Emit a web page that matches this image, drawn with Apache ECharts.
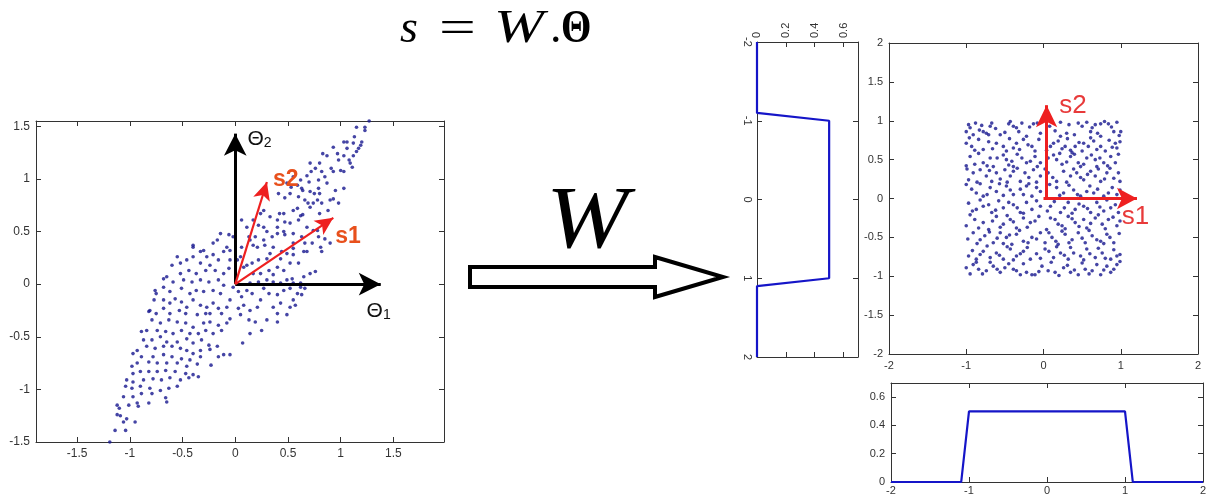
<!DOCTYPE html>
<html><head><meta charset="utf-8">
<script src="https://cdn.jsdelivr.net/npm/echarts@6/dist/echarts.min.js"></script>
<style>html,body{margin:0;padding:0;background:#fff}#c{width:1210px;height:503px}</style>
</head><body><div id="c"></div>
<script>
// ---- data ----
const thetaPoints = [
[1.27,1.55],[1.23,1.49],[1.23,1.46],[1.15,1.49],[1.20,1.35],[1.12,1.34],[1.03,1.35],[1.06,1.35],[0.93,1.30],[1.06,1.29],[1.17,1.29],[1.15,1.26],[0.97,1.24],[1.03,1.22],[0.83,1.24],[0.87,1.22],[0.98,1.18],[1.09,1.15],[0.91,1.10],[1.00,1.08],[1.03,1.07],[1.11,1.11],[0.71,1.15],[0.80,1.15],[0.72,1.07],[0.82,1.07],[0.85,1.02],[0.62,0.99],[0.55,1.02],[0.70,0.97],[0.79,0.99],[0.49,0.96],[0.53,0.92],[0.63,0.91],[0.79,0.91],[1.03,0.91],[0.71,0.88],[0.52,0.86],[0.41,0.86],[0.60,0.83],[0.47,0.82],[0.80,0.86],[0.93,0.81],[0.66,0.80],[0.69,0.77],[0.74,0.77],[0.82,0.77],[0.98,0.77],[0.59,0.72],[0.55,0.70],[0.46,0.67],[0.64,0.66],[0.71,0.73],[0.27,0.70],[0.24,0.67],[0.33,0.64],[0.42,0.67],[0.40,0.61],[0.47,0.59],[0.17,0.61],[0.06,0.61],[0.27,0.54],[0.22,0.56],[0.30,0.50],[0.40,0.48],[0.47,0.47],[0.52,0.58],[0.60,0.61],[0.68,0.54],[0.78,0.51],[0.85,0.43],[0.73,0.39],[0.81,0.35],[0.82,0.31],[0.65,0.31],[0.68,0.31],[0.55,0.34],[0.49,0.29],[0.35,0.45],[0.19,0.45],[0.14,0.42],[0.21,0.35],[0.28,0.37],[0.36,0.35],[0.44,0.31],[0.55,0.28],[0.60,0.20],[0.52,0.20],[0.46,0.13],[0.40,0.16],[0.30,0.24],[0.22,0.23],[0.16,0.20],[0.11,0.18],[0.05,0.26],[0.32,0.13],[0.24,0.10],[0.36,0.09],[0.71,0.10],[0.76,0.12],[0.65,0.07],[0.54,0.05],[0.49,0.04],[0.43,0.01],[0.55,0.01],[0.62,0.01],
[-0.02,-0.03],[0.03,-0.07],[0.11,-0.06],[0.16,-0.09],[0.06,-0.12],[0.27,-0.04],[0.32,-0.09],[0.40,-0.10],[0.46,-0.06],[0.52,-0.04],[0.62,-0.03],[0.66,-0.04],[0.59,-0.09],[0.55,-0.15],[0.63,-0.10],[0.52,-0.22],[0.57,-0.20],[0.43,-0.18],[0.36,-0.22],[0.40,-0.28],[0.49,-0.29],[0.24,-0.15],[0.21,-0.22],[0.14,-0.25],[0.08,-0.20],[0.03,-0.23],[0.05,-0.29],[0.13,-0.34],[0.19,-0.36],[0.30,-0.34],[0.40,-0.36],[0.25,-0.44],[0.14,-0.47],[0.07,-0.56],[-0.05,-0.15],[-0.08,-0.22],[-0.05,-0.33],[-0.08,-0.37],
[-0.06,0.47],[-0.14,0.48],[-0.21,0.39],[-0.08,0.35],[-0.11,0.31],[-0.05,0.32],[-0.30,0.32],[-0.40,0.35],[-0.27,0.26],[-0.21,0.28],[-0.16,0.23],[-0.05,0.23],[-0.33,0.20],[-0.24,0.18],[-0.40,0.26],[-0.46,0.23],[-0.52,0.20],[-0.60,0.18],[-0.55,0.26],[-0.44,0.13],[-0.37,0.10],[-0.28,0.13],[-0.19,0.13],[-0.11,0.10],[-0.06,0.15],[-0.52,0.10],[-0.65,0.07],[-0.59,0.02],[-0.49,0.04],[-0.41,0.02],[-0.33,0.04],[-0.25,0.02],[-0.16,0.04],[-0.11,-0.01],
[-0.68,-0.03],[-0.62,-0.07],[-0.51,-0.04],[-0.43,-0.09],[-0.37,-0.06],[-0.30,-0.07],[-0.21,-0.06],[-0.14,-0.09],[-0.76,-0.06],[-0.75,-0.09],[-0.68,-0.15],[-0.62,-0.18],[-0.57,-0.14],[-0.51,-0.17],[-0.46,-0.22],[-0.40,-0.15],[-0.33,-0.20],[-0.27,-0.22],[-0.21,-0.18],[-0.16,-0.23],[-0.13,-0.28],[-0.24,-0.28],[-0.28,-0.28],[-0.36,-0.29],[-0.47,-0.28],[-0.53,-0.25],[-0.62,-0.28],[-0.68,-0.23],[-0.75,-0.28],[-0.82,-0.26],[-0.79,-0.34],[-0.71,-0.37],[-0.63,-0.34],[-0.55,-0.36],[-0.47,-0.37],[-0.40,-0.41],[-0.30,-0.37],[-0.24,-0.36],[-0.16,-0.39],[-0.13,-0.44],[-0.21,-0.47],[-0.28,-0.44],[-0.35,-0.47],[-0.43,-0.47],[-0.51,-0.44],[-0.59,-0.47],[-0.66,-0.45],[-0.74,-0.44],[-0.84,-0.44],[-0.89,-0.45],[-0.87,-0.53],[-0.79,-0.53],[-0.71,-0.50],[-0.65,-0.55],[-0.55,-0.55],[-0.46,-0.52],[-0.40,-0.56],[-0.32,-0.53],[-0.25,-0.58],[-0.17,-0.59],[-0.11,-0.67],[-0.16,-0.69],[-0.05,-0.67],[-0.24,-0.62],[-0.33,-0.63],[-0.40,-0.66],[-0.46,-0.63],[-0.52,-0.61],[-0.60,-0.59],[-0.68,-0.59],[-0.76,-0.61],[-0.84,-0.59],[-0.93,-0.63],[-0.89,-0.69],[-0.78,-0.69],[-0.68,-0.67],[-0.60,-0.69],[-0.51,-0.71],[-0.43,-0.72],[-0.33,-0.69],[-0.23,-0.77],[-0.36,-0.76],[-0.46,-0.78],[-0.55,-0.75],[-0.65,-0.75],[-0.74,-0.75],[-0.82,-0.74],[-0.93,-0.75],[-0.98,-0.78],[-0.97,-0.85],[-0.90,-0.83],[-0.82,-0.83],[-0.74,-0.83],[-0.66,-0.82],[-0.57,-0.83],[-0.47,-0.85],[-0.40,-0.86],[-0.35,-0.88],[-0.44,-0.89],[-0.52,-0.91],[-0.62,-0.89],[-0.70,-0.91],[-0.78,-0.90],[-0.87,-0.91],[-0.97,-0.93],[-1.03,-0.91],[-1.04,-0.97],[-0.98,-0.99],[-0.90,-0.97],[-0.81,-0.99],[-0.71,-1.01],[-0.63,-0.99],[-0.55,-0.97],[-0.79,-1.04],[-0.89,-1.04],[-0.97,-1.07],[-1.06,-1.07],[-0.66,-1.08],[-0.65,-1.12],[-0.82,-1.13],[-0.93,-1.13],[-1.01,-1.15],[-1.12,-1.15],[-1.10,-1.18],[-0.92,-1.16],[-1.12,-1.24],[-1.09,-1.25],[-1.03,-1.28],[-0.95,-1.31],[-1.06,-1.31],[-1.14,-1.39],[-1.04,-1.39],[-1.19,-1.50],[-0.97,-0.66],[-0.81,-0.25],[-0.77,-0.15],[-0.68,0.05],[-0.40,0.37],[-0.17,0.42],[-0.33,0.31],
[0.11,0.54],[0.13,0.45],[0.17,0.37],[-0.02,0.45],[0.02,0.23],[0.06,0.35],[0.08,0.16],[0.17,0.10],[0.30,0.04],[0.36,0.02],[0.22,0.02],[0.14,0.01],[0.27,0.42],[0.33,0.29],[0.43,0.24],[0.40,0.54],[0.46,0.50],[0.55,0.48],[0.63,0.45],[0.74,0.51],[0.79,0.45],[0.90,0.39],[0.66,0.39],[0.55,0.39],[0.62,0.65],[0.80,0.67],[0.88,0.70],[0.75,0.86],[0.64,0.89],[0.59,0.94],[0.68,1.03],[0.76,1.10],[0.93,1.07],[0.87,0.96],[0.95,0.89],[0.78,0.80],[0.90,0.80],[1.08,1.18],[1.12,1.22],[1.19,1.32],[1.13,1.40]
];
const sourcePoints = [
[-1.00,0.86],[-0.95,0.91],[-0.91,0.82],[-0.80,0.94],[-0.78,0.86],[-0.74,0.84],[-0.69,0.93],[-0.67,0.97],[-0.71,0.82],[-0.56,0.82],[-0.45,0.96],[-0.39,0.93],[-0.32,0.86],[-0.28,0.97],[-0.22,0.80],[-0.13,0.96],[-0.04,0.84],[0.22,0.98],[0.22,0.80],[0.30,0.84],[0.45,0.97],[0.50,0.93],[0.56,0.98],[0.61,0.86],[0.67,0.95],[0.74,0.96],[0.74,0.80],[0.84,0.96],[0.91,0.86],[0.95,0.98],[1.00,0.86],
[-1.00,0.71],[-0.93,0.67],[-0.84,0.76],[-0.78,0.63],[-0.61,0.71],[-0.52,0.67],[-0.48,0.61],[-0.39,0.65],[-0.35,0.71],[-0.26,0.76],[-0.15,0.67],[-0.11,0.61],[0.09,0.67],[0.13,0.71],[0.19,0.74],[0.28,0.67],[0.35,0.62],[0.37,0.59],[0.41,0.67],[0.52,0.71],[0.58,0.67],[0.65,0.74],[0.74,0.67],[0.80,0.61],[0.93,0.71],[0.95,0.65],
[-0.95,0.54],[-0.89,0.44],[-0.78,0.46],[-0.69,0.52],[-0.65,0.41],[-0.52,0.56],[-0.48,0.50],[-0.41,0.48],[-0.39,0.41],[-0.28,0.52],[-0.22,0.46],[-0.11,0.54],[-0.04,0.46],[0.13,0.56],[0.17,0.50],[0.24,0.44],[0.35,0.54],[0.45,0.46],[0.48,0.41],[0.56,0.52],[0.67,0.50],[0.69,0.41],[0.78,0.46],[0.87,0.54],[0.93,0.46],
[-0.97,0.24],[-0.91,0.33],[-0.82,0.37],[-0.74,0.29],[-0.67,0.22],[-0.61,0.33],[-0.50,0.37],[-0.43,0.29],[-0.39,0.35],[-0.30,0.22],[-0.24,0.33],[-0.13,0.37],[-0.04,0.29],[0.06,0.33],[0.17,0.22],[0.26,0.35],[0.35,0.29],[0.43,0.33],[0.52,0.24],[0.61,0.35],[0.67,0.29],[0.74,0.22],[0.82,0.33],[0.91,0.26],[0.97,0.33],
[-1.00,0.18],[-0.87,0.07],[-0.78,0.03],[-0.69,0.14],[-0.61,0.09],[-0.48,0.16],[-0.39,0.05],[-0.30,0.12],[-0.22,0.16],[-0.15,0.03],[-0.04,0.09],[0.17,0.14],[0.26,0.07],[0.39,0.11],[0.48,0.03],[0.56,0.09],[0.65,0.07],[0.78,0.03],[0.89,0.14],[0.95,0.05],
[-0.97,-0.06],[-0.87,-0.14],[-0.78,-0.10],[-0.67,-0.18],[-0.58,-0.03],[-0.52,-0.12],[-0.39,-0.08],[-0.30,-0.18],[-0.22,-0.05],[-0.15,-0.14],[-0.04,-0.10],[0.09,-0.10],[0.22,-0.18],[0.32,-0.05],[0.41,-0.14],[0.52,-0.10],[0.61,-0.18],[0.69,-0.05],[0.78,-0.16],[0.87,-0.12],[0.97,-0.18],
[-1.00,-0.35],[-0.89,-0.27],[-0.78,-0.31],[-0.71,-0.40],[-0.61,-0.23],[-0.52,-0.33],[-0.43,-0.27],[-0.35,-0.38],[-0.26,-0.25],[-0.17,-0.31],[-0.06,-0.23],[0.04,-0.40],[0.15,-0.27],[0.24,-0.35],[0.32,-0.23],[0.41,-0.31],[0.52,-0.27],[0.56,-0.38],[0.67,-0.25],[0.76,-0.33],[0.84,-0.27],[0.95,-0.35],
[-0.91,-0.44],[-0.82,-0.53],[-0.76,-0.48],[-0.65,-0.57],[-0.56,-0.44],[-0.48,-0.50],[-0.41,-0.59],[-0.35,-0.46],[-0.26,-0.55],[-0.15,-0.50],[-0.04,-0.44],[0.02,-0.57],[0.11,-0.50],[0.19,-0.59],[0.28,-0.46],[0.37,-0.53],[0.45,-0.44],[0.54,-0.57],[0.63,-0.48],[0.74,-0.55],[0.82,-0.46],[0.91,-0.57],
[-0.97,-0.74],[-0.87,-0.78],[-0.78,-0.68],[-0.69,-0.76],[-0.61,-0.70],[-0.52,-0.78],[-0.43,-0.65],[-0.35,-0.74],[-0.26,-0.68],[-0.17,-0.78],[-0.09,-0.71],[0.02,-0.65],[0.13,-0.76],[0.22,-0.70],[0.32,-0.78],[0.39,-0.70],[0.48,-0.74],[0.56,-0.65],[0.67,-0.76],[0.76,-0.70],[0.87,-0.78],[0.95,-0.74],
[-1.00,-0.89],[-0.91,-0.85],[-0.84,-0.91],[-0.74,-0.93],[-0.65,-0.87],[-0.56,-0.95],[-0.50,-0.89],[-0.39,-0.91],[-0.30,-0.98],[-0.22,-0.95],[-0.15,-0.98],[-0.11,-0.98],[-0.02,-0.87],[0.06,-0.93],[0.15,-0.95],[0.26,-0.89],[0.35,-0.95],[0.45,-0.98],[0.54,-0.91],[0.63,-0.93],[0.74,-0.98],[0.82,-0.87],[0.91,-0.91],[0.95,-0.85],
[-0.97,0.95],[-0.88,0.97],[-0.83,0.88],[-0.62,0.90],[-0.50,0.85],[-0.43,0.99],[-0.35,0.91],[-0.18,0.92],[-0.08,0.97],[0.08,0.93],[0.15,0.87],[0.33,0.95],[0.40,0.82],[0.63,0.91],[0.70,0.84],[0.79,0.99],[0.88,0.92],[0.98,0.81],
[-0.96,0.78],[-0.89,0.62],[-0.71,0.73],[-0.66,0.64],[-0.44,0.77],[-0.31,0.63],[-0.20,0.69],[-0.06,0.76],[0.04,0.62],[0.24,0.64],[0.31,0.77],[0.46,0.72],[0.50,0.61],[0.61,0.78],[0.69,0.63],[0.85,0.75],[0.89,0.66],[0.99,0.73],
[-1.00,0.42],[-0.84,0.58],[-0.73,0.42],[-0.60,0.52],[-0.45,0.43],[-0.34,0.57],[-0.17,0.48],[-0.08,0.41],[0.06,0.52],[0.21,0.58],[0.30,0.47],[0.40,0.57],[0.52,0.44],[0.62,0.56],[0.73,0.52],[0.83,0.42],[0.97,0.57],
[-0.99,0.38],[-0.86,0.21],[-0.70,0.36],[-0.56,0.25],[-0.47,0.21],[-0.34,0.39],[-0.19,0.27],[-0.09,0.21],[0.02,0.38],[0.12,0.27],[0.30,0.21],[0.39,0.38],[0.48,0.27],[0.57,0.31],[0.71,0.38],[0.79,0.25],[0.86,0.39],[0.99,0.22],
[-0.93,0.12],[-0.82,0.19],[-0.73,0.05],[-0.57,0.19],[-0.52,0.04],[-0.43,0.11],[-0.26,0.05],[-0.19,0.19],[-0.09,0.14],[0.08,0.18],[0.21,0.04],[0.33,0.17],[0.44,0.05],[0.60,0.16],[0.70,0.12],[0.84,0.07],[0.99,0.11],
[-0.92,-0.16],[-0.82,-0.02],[-0.71,-0.08],[-0.62,-0.15],[-0.45,-0.05],[-0.34,-0.12],[-0.26,-0.19],[-0.09,-0.03],[0.05,-0.16],[0.14,-0.04],[0.27,-0.12],[0.37,-0.19],[0.46,-0.07],[0.57,-0.13],[0.73,-0.11],[0.82,-0.02],[0.93,-0.08],
[-0.95,-0.21],[-0.84,-0.38],[-0.66,-0.29],[-0.56,-0.37],[-0.47,-0.22],[-0.39,-0.30],[-0.21,-0.37],[-0.11,-0.29],[0.09,-0.25],[0.19,-0.33],[0.28,-0.39],[0.37,-0.26],[0.46,-0.36],[0.61,-0.32],[0.71,-0.21],[0.80,-0.39],[0.90,-0.24],[0.99,-0.29],
[-0.98,-0.52],[-0.86,-0.58],[-0.70,-0.43],[-0.60,-0.51],[-0.52,-0.58],[-0.44,-0.47],[-0.31,-0.41],[-0.20,-0.57],[-0.09,-0.52],[0.07,-0.44],[0.16,-0.55],[0.24,-0.42],[0.33,-0.57],[0.50,-0.51],[0.59,-0.41],[0.69,-0.53],[0.78,-0.58],[0.86,-0.50],[0.98,-0.45],
[-0.92,-0.67],[-0.82,-0.72],[-0.73,-0.61],[-0.57,-0.73],[-0.47,-0.62],[-0.39,-0.79],[-0.30,-0.71],[-0.21,-0.63],[-0.04,-0.77],[0.07,-0.68],[0.17,-0.62],[0.27,-0.73],[0.35,-0.63],[0.52,-0.79],[0.60,-0.71],[0.71,-0.64],[0.80,-0.77],[0.91,-0.66],[0.99,-0.72],
[-0.95,-0.97],[-0.87,-0.82],[-0.79,-0.97],[-0.69,-0.82],[-0.60,-0.91],[-0.45,-0.84],[-0.35,-0.93],[-0.26,-0.84],[-0.06,-0.94],[0.10,-0.82],[0.20,-0.99],[0.31,-0.86],[0.40,-0.92],[0.50,-0.83],[0.59,-0.97],[0.69,-0.85],[0.78,-0.92],[0.87,-0.95],[0.99,-0.81]
];
const densityS = [-2, -1.1, -1, 1, 1.1, 2];
const densityP = [0, 0, 0.5, 0.5, 0, 0];
const thetaTicks = [-1.5, -1, -0.5, 0, 0.5, 1, 1.5];
const thetaAxisTip = [1.38, 1.43];          // tips of Θ1 and Θ2 axis arrows
const s1Theta = [0.93, 0.63], s2Theta = [0.30, 0.97];
const s1Src = [1.21, 0], s2Src = [0.04, 1.2];

// ---- helpers ----
const AX = '#333';
function ax(o) {
  const base = {
    type: 'value', splitLine: { show: false },
    axisLine: { show: true, onZero: false, lineStyle: { color: AX, width: 1 } },
    axisTick: { show: true, inside: true, length: 5, lineStyle: { color: AX } },
    axisLabel: { show: true, color: '#333', fontSize: 11, fontFamily: 'Liberation Sans, Arial', margin: 6, showMaxLabel: true }
  };
  const r = Object.assign({}, base, o);
  r.axisTick = Object.assign({}, base.axisTick, o.axisTick || {});
  r.axisLabel = Object.assign({}, base.axisLabel, o.axisLabel || {});
  return r;
}
const dotColor = '#16168f';
const densLine = densityS.map((s, i) => [s, densityP[i]]);
const densLineRot = densityS.map((s, i) => [densityP[i], s]);
const solid = (c, w) => ({ color: c, width: w, type: 'solid' });
const serif = (style, size, weight) => ({ fontStyle: style, fontWeight: weight || 'normal', fontSize: size, fontFamily: 'Liberation Serif', fill: '#000', verticalAlign: 'middle' });

const option = {
  animation: false,
  backgroundColor: '#fff',
  grid: [
    { left: 36, top: 121, width: 408, height: 321 },
    { left: 889, top: 43, width: 309, height: 311 },
    { left: 757, top: 42, width: 101, height: 315 },
    { left: 891, top: 383, width: 312, height: 99 }
  ],
  xAxis: [
    ax({ gridIndex: 0, position: 'bottom', min: -1.89, max: 1.98, axisTick: { customValues: thetaTicks }, axisLabel: { customValues: thetaTicks, fontSize: 12 } }),
    ax({ gridIndex: 0, position: 'top', min: -1.89, max: 1.98, axisTick: { customValues: thetaTicks }, axisLabel: { show: false } }),
    ax({ gridIndex: 1, position: 'bottom', min: -2, max: 2, interval: 1 }),
    ax({ gridIndex: 1, position: 'top', min: -2, max: 2, interval: 1, axisLabel: { show: false } }),
    ax({ gridIndex: 2, position: 'top', min: 0, max: 0.7, interval: 0.2, axisLabel: { rotate: -90, margin: 4, showMaxLabel: false } }),
    ax({ gridIndex: 2, position: 'bottom', min: 0, max: 0.7, interval: 0.2, axisLabel: { show: false } }),
    ax({ gridIndex: 3, position: 'bottom', min: -2, max: 2, interval: 1, axisLabel: { margin: 3 } }),
    ax({ gridIndex: 3, position: 'top', min: -2, max: 2, interval: 1, axisLabel: { show: false } })
  ],
  yAxis: [
    ax({ gridIndex: 0, position: 'left', min: -1.5, max: 1.55, axisTick: { customValues: thetaTicks }, axisLabel: { customValues: thetaTicks, fontSize: 12 } }),
    ax({ gridIndex: 0, position: 'right', min: -1.5, max: 1.55, axisTick: { customValues: thetaTicks }, axisLabel: { show: false } }),
    ax({ gridIndex: 1, position: 'left', min: -2, max: 2, interval: 0.5 }),
    ax({ gridIndex: 1, position: 'right', min: -2, max: 2, interval: 0.5, axisLabel: { show: false } }),
    ax({ gridIndex: 2, position: 'left', min: -2, max: 2, interval: 1, inverse: true, axisLabel: { rotate: -90, margin: 4 } }),
    ax({ gridIndex: 2, position: 'right', min: -2, max: 2, interval: 1, inverse: true, axisLabel: { show: false } }),
    ax({ gridIndex: 3, position: 'left', min: 0, max: 0.7, interval: 0.2, axisLabel: { showMaxLabel: false } }),
    ax({ gridIndex: 3, position: 'right', min: 0, max: 0.7, interval: 0.2, axisLabel: { show: false } })
  ],
  series: [
    {
      type: 'scatter', xAxisIndex: 0, yAxisIndex: 0, data: thetaPoints,
      symbolSize: 3.6, itemStyle: { color: dotColor },
      markLine: {
        silent: true, animation: false, label: { show: false },
        symbol: ['none', 'arrow'],
        data: [
          [{ coord: [0, 0], lineStyle: solid('#000', 3) }, { coord: [thetaAxisTip[0], 0], symbolSize: [17, 22], itemStyle: { color: '#000' } }],
          [{ coord: [0, 0], lineStyle: solid('#000', 3) }, { coord: [0, thetaAxisTip[1]], symbolSize: [17, 22], itemStyle: { color: '#000' } }],
          [{ coord: [0, 0], lineStyle: solid('#ee2020', 2.2) }, { coord: s1Theta, symbolSize: [13, 18], itemStyle: { color: '#ee2020' } }],
          [{ coord: [0, 0], lineStyle: solid('#ee2020', 2.2) }, { coord: s2Theta, symbolSize: [13, 18], itemStyle: { color: '#ee2020' } }]
        ]
      },
      markPoint: {
        silent: true, symbol: 'circle', symbolSize: 0,
        label: { show: true, position: 'inside' },
        data: [
          { coord: [0.48, 0.99], label: { formatter: 's2', color: '#e8501c', fontSize: 23, fontWeight: 'bold', fontFamily: 'Liberation Sans, Arial' } },
          { coord: [1.07, 0.45], label: { formatter: 's1', color: '#e8501c', fontSize: 23, fontWeight: 'bold', fontFamily: 'Liberation Sans, Arial' } },
          { coord: [0.23, 1.38], label: { formatter: '{t|Θ}{s|2}', rich: { t: { fontSize: 21, color: '#111', fontFamily: 'Liberation Sans, Arial' }, s: { fontSize: 14, color: '#111', verticalAlign: 'bottom', padding: [8, 0, 0, 0], fontFamily: 'Liberation Sans, Arial' } } } },
          { coord: [1.36, -0.26], label: { formatter: '{t|Θ}{s|1}', rich: { t: { fontSize: 21, color: '#111', fontFamily: 'Liberation Sans, Arial' }, s: { fontSize: 14, color: '#111', verticalAlign: 'bottom', padding: [8, 0, 0, 0], fontFamily: 'Liberation Sans, Arial' } } } }
        ]
      }
    },
    {
      type: 'scatter', xAxisIndex: 2, yAxisIndex: 2, data: sourcePoints,
      symbolSize: 3.6, itemStyle: { color: dotColor },
      markLine: {
        silent: true, animation: false, label: { show: false },
        symbol: ['none', 'arrow'],
        data: [
          [{ coord: [0, 0], lineStyle: solid('#ee2020', 3) }, { coord: s1Src, symbolSize: [16, 20], itemStyle: { color: '#ee2020' } }],
          [{ coord: [s2Src[0], 0], lineStyle: solid('#ee2020', 3) }, { coord: s2Src, symbolSize: [16, 22], itemStyle: { color: '#ee2020' } }]
        ]
      },
      markPoint: {
        silent: true, symbol: 'circle', symbolSize: 0,
        label: { show: true, position: 'inside' },
        data: [
          { coord: [0.38, 1.19], label: { formatter: 's2', color: '#e83a3a', fontSize: 26, fontFamily: 'Liberation Sans, Arial' } },
          { coord: [1.19, -0.23], label: { formatter: 's1', color: '#e83a3a', fontSize: 26, fontFamily: 'Liberation Sans, Arial' } }
        ]
      }
    },
    {
      type: 'line', xAxisIndex: 4, yAxisIndex: 4, data: densLineRot, showSymbol: false,
      lineStyle: { color: '#1515c8', width: 2.2 }
    },
    {
      type: 'line', xAxisIndex: 6, yAxisIndex: 6, data: densLine, showSymbol: false,
      lineStyle: { color: '#1515c8', width: 2.2 }
    }
  ],
  graphic: [
    { type: 'text', x: 400, y: 30, style: Object.assign({ text: 's' }, serif('italic', 46)) },
    { type: 'text', x: 439, y: 30, scaleX: 1.42, style: Object.assign({ text: '=' }, serif('normal', 46)) },
    { type: 'text', x: 494, y: 30, scaleX: 1.3, style: Object.assign({ text: 'W' }, serif('italic', 46)) },
    { type: 'text', x: 550, y: 30, style: Object.assign({ text: '.' }, serif('normal', 46)) },
    { type: 'text', x: 561, y: 30, scaleX: 0.85, style: Object.assign({ text: 'Θ' }, serif('normal', 46, 'bold')) },
    { type: 'text', x: 546, y: 224, scaleX: 1.12, style: Object.assign({ text: 'W' }, serif('italic', 88)) },
    { type: 'polygon', shape: { points: [[470, 267], [655, 267], [655, 257], [723, 277], [655, 297], [655, 287], [470, 287]] }, style: { fill: '#fff', stroke: '#000', lineWidth: 4, lineJoin: 'miter' } }
  ]
};
const chart = echarts.init(document.getElementById('c'), null, { renderer: 'canvas' });
chart.setOption(option);
</script></body></html>
